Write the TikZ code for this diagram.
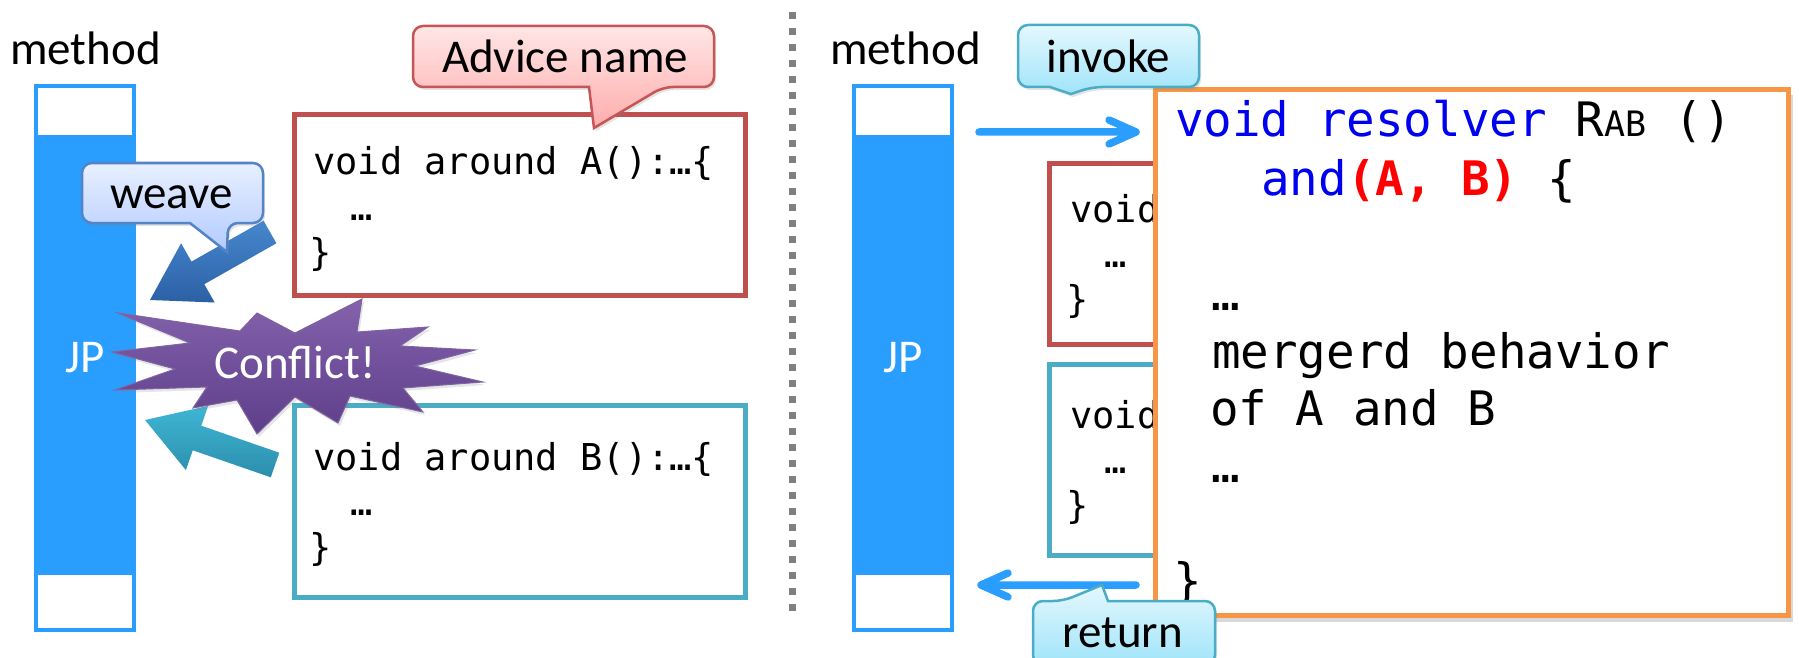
\documentclass[tikz,border=0pt]{standalone}
\usepackage{fontspec}
\setmainfont{Carlito}
\newfontfamily\codefont{DejaVu Sans Mono}
\usetikzlibrary{shadows}

\definecolor{barblue}{RGB}{41,158,255}
\definecolor{redbox}{RGB}{192,80,77}
\definecolor{tealbox}{RGB}{75,172,198}
\definecolor{orangebox}{RGB}{247,150,70}
\definecolor{sepgray}{RGB}{128,128,128}
\definecolor{kwblue}{RGB}{0,0,240}
\definecolor{kwred}{RGB}{255,0,0}
\definecolor{pinktop}{RGB}{255,230,230}
\definecolor{pinkbot}{RGB}{255,172,172}
\definecolor{pinkline}{RGB}{200,85,85}
\definecolor{wvtop}{RGB}{232,240,255}
\definecolor{wvbot}{RGB}{178,202,255}
\definecolor{wvline}{RGB}{84,132,200}
\definecolor{cytop}{RGB}{228,248,254}
\definecolor{cybot}{RGB}{160,228,250}
\definecolor{cyline}{RGB}{75,172,198}
\definecolor{warrtop}{RGB}{70,135,205}
\definecolor{warrbot}{RGB}{44,96,165}
\definecolor{tarrtop}{RGB}{62,182,212}
\definecolor{tarrbot}{RGB}{44,142,172}
\definecolor{purtop}{RGB}{132,98,172}
\definecolor{purbot}{RGB}{94,62,138}
\definecolor{purline}{RGB}{128,100,162}

\begin{document}
\begin{tikzpicture}[x=1pt,y=-1pt,
  lbl/.style={font=\fontsize{47}{56}\selectfont, inner sep=0pt, anchor=base},
  code/.style={font=\codefont\fontsize{37}{44}\selectfont, inner sep=0pt, anchor=base west},
  bigcode/.style={font=\codefont\fontsize{47.5}{57.6}\selectfont, inner sep=0pt, anchor=base west},
  codebox/.style={draw, line width=5pt, fill=white, inner sep=0pt, outer sep=0pt},
  barbody/.style={fill=barblue, inner sep=0pt, outer sep=0pt, minimum width=102pt, minimum height=548pt},
  barcap/.style={fill=white, inner sep=0pt, outer sep=0pt, minimum width=94pt},
  flow/.style={draw=barblue, line width=7.5pt, line cap=round, line join=round},
  sepline/.style={draw=sepgray, line width=7pt, dash pattern=on 7pt off 9pt},
  bubble/.style={line width=2.5pt, rounded corners=10pt,
    drop shadow={opacity=0.22, shadow xshift=2pt, shadow yshift=-3pt}},
  boxshadow/.style={drop shadow={opacity=0.3, shadow xshift=4pt, shadow yshift=-6pt}}
]
\useasboundingbox (0,0) rectangle (1799,658);

% separator
\coordinate (sepT) at (792,12);
\coordinate (sepB) at (792,612);
\draw[sepline] (sepT) -- (sepB);

% ---------------- left side ----------------
\node[barbody] (bar1) at (85,358) {};
\node[barcap, minimum height=47pt] (bar1top) at (85,111.5) {};
\node[barcap, minimum height=53pt] (bar1bot) at (85,601.5) {};
\node[lbl] (meth1) at (85.5,65) {method};
\node[lbl, text=white] (jp1) at (85,372) {JP};

\node[codebox, draw=redbox, minimum width=451pt, minimum height=181pt] (advA) at (520,205) {};
\node[code] (advA1) at (313,175) {void around A():…\{};
\node[code] (advA2) at (350,220) {…};
\node[code] (advA3) at (309,265) {\}};

\node[codebox, draw=tealbox, minimum width=451pt, minimum height=192pt] (advB) at (520,501.5) {};
\node[code] (advB1) at (313,470) {void around B():…\{};
\node[code] (advB2) at (350,515) {…};
\node[code] (advB3) at (309,560) {\}};

% weave arrow
\path[top color=warrtop, bottom color=warrbot]
  (263.6,220.7) -- (276.4,243.3) -- (204.3,284.2) -- (214.7,302.5)
  -- (150,300) -- (181.1,243.3) -- (191.5,261.6) -- cycle;
% teal arrow
\path[top color=tarrtop, bottom color=tarrbot]
  (279.3,452.7) -- (270.8,477.3) -- (192.8,450.3) -- (185.9,470.1)
  -- (145,420) -- (208.1,405.9) -- (201.3,425.7) -- cycle;

% explosion
\path[top color=purtop, bottom color=purbot, draw=purline, line width=1pt,
      drop shadow={opacity=0.2, shadow xshift=2pt, shadow yshift=-3pt}]
  (118,313) -- (240,331) -- (257,313) -- (295,333) -- (362,299) -- (357,332)
  -- (428,327) -- (400,346) -- (475,350) -- (415,366) -- (483,382) -- (403,388)
  -- (423,412) -- (350,396) -- (338,423) -- (295,397) -- (257,434) -- (237,400)
  -- (193,408) -- (207,387) -- (115,390) -- (175,369) -- (112,352) -- (190,343) -- cycle;
\node[lbl, text=white] (conflict) at (295,378) {Conflict!};

% weave bubble
\path[bubble, top color=wvtop, bottom color=wvbot, draw=wvline]
  (82,223) -- (82,163) -- (263,163) -- (263,223) -- (228,223)
  [sharp corners] -- (227,252) -- (190,223) [rounded corners=10pt] -- cycle;
\node[lbl] (weave) at (171.5,208) {weave};

% advice name bubble
\path[bubble, top color=pinktop, bottom color=pinkbot, draw=pinkline]
  (413,87) -- (413,26) -- (714,26) -- (714,87) -- (663,87)
  [sharp corners] -- (594,128) -- (589,87) [rounded corners=10pt] -- cycle;
\node[lbl] (advname) at (565,73) {Advice name};

% ---------------- right side ----------------
\node[barbody] (bar2) at (903,358) {};
\node[barcap, minimum height=47pt] (bar2top) at (903,111.5) {};
\node[barcap, minimum height=53pt] (bar2bot) at (903,601.5) {};
\node[lbl] (meth2) at (905.5,65) {method};
\node[lbl, text=white] (jp2) at (903,372) {JP};

\node[codebox, draw=redbox, minimum width=200pt, minimum height=181pt] (advA2box) at (1149.5,254) {};
\node[code] (advA2l1) at (1070,222) {void};
\node[code] (advA2l2) at (1104,267) {…};
\node[code] (advA2l3) at (1066,312) {\}};

\node[codebox, draw=tealbox, minimum width=200pt, minimum height=191pt] (advB2box) at (1149.5,460) {};
\node[code] (advB2l1) at (1070,428) {void};
\node[code] (advB2l2) at (1104,473) {…};
\node[code] (advB2l3) at (1066,518) {\}};

\node[codebox, draw=orangebox, boxshadow, minimum width=633pt, minimum height=526pt] (resolver) at (1472,352.5) {};
\node[bigcode] (r1) at (1175,137) {\textcolor{kwblue}{void resolver }R{\fontsize{35}{40}\selectfont AB} ()};
\node[bigcode] (r2) at (1261,195) {\textcolor{kwblue}{and}\textcolor{kwred}{\bfseries(A, B)} \{};
\node[bigcode] (r4) at (1211,310) {…};
\node[bigcode] (r5) at (1212,368) {mergerd behavior};
\node[bigcode] (r6) at (1210,425) {of A and B};
\node[bigcode] (r7) at (1211,482) {…};
\node[bigcode] (r9) at (1173,597) {\}};

% invoke / return arrows
\coordinate (invS) at (979,132);
\coordinate (invE) at (1136,132);
\draw[flow] (invS) -- (invE) ++(-27,-12) -- (invE) -- ++(-27,12);
\coordinate (retS) at (1136,585);
\coordinate (retE) at (981,585);
\draw[flow] (retS) -- (retE) ++(27,-12) -- (retE) -- ++(27,12);

% invoke bubble
\path[bubble, top color=cytop, bottom color=cybot, draw=cyline]
  (1018,87) -- (1018,25) -- (1199,25) -- (1199,87) -- (1092,87)
  [sharp corners] -- (1071,94) -- (1050,87) [rounded corners=10pt] -- cycle;
\node[lbl] (invoke) at (1108.5,73) {invoke};

% return bubble
\path[bubble, top color=cytop, bottom color=cybot, draw=cyline]
  (1033,665) -- (1033,601) -- (1063,601)
  [sharp corners] -- (1102,585) -- (1108,601) [rounded corners=10pt]
  -- (1215,601) -- (1215,665) -- cycle;
\node[lbl] (return) at (1122.5,647) {return};

\end{tikzpicture}
\end{document}
